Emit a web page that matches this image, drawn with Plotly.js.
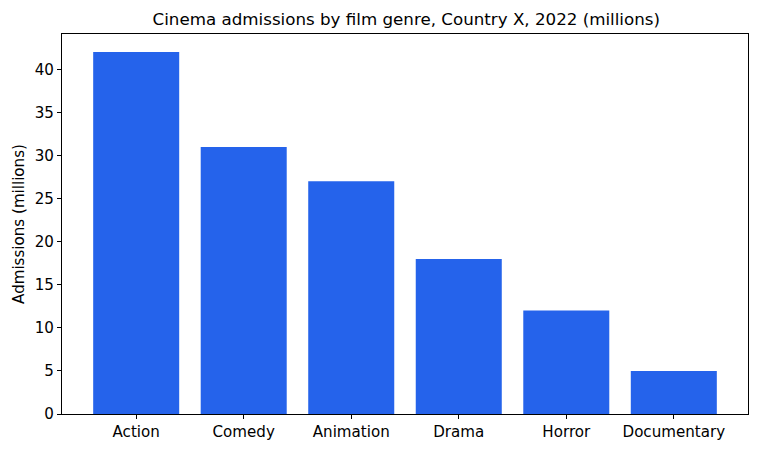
<!DOCTYPE html>
<html>
<head>
<meta charset="utf-8">
<script src="https://cdn.plot.ly/plotly-3.0.1.min.js"></script>
<style>html,body{margin:0;padding:0;background:#fff;}#chart{width:758px;height:451px;}</style>
</head>
<body>
<div id="chart"></div>
<script>
const genres = ["Action", "Comedy", "Animation", "Drama", "Horror", "Documentary"];
const admissions = [42, 31, 27, 18, 12, 5];
const yTicks = [0, 5, 10, 15, 20, 25, 30, 35, 40];

const font = {family: "DejaVu Sans", size: 15.1, color: "#000"};
Plotly.newPlot("chart", [{
  type: "bar",
  x: genres,
  y: admissions,
  marker: {color: "#2563eb", line: {width: 0}},
  hoverinfo: "x+y"
}], {
  width: 758, height: 451,
  margin: {l: 62, r: 10, t: 34, b: 37, pad: 0},
  paper_bgcolor: "#fff", plot_bgcolor: "#fff",
  font: font,
  bargap: 0.2,
  title: {text: "Cinema admissions by film genre, Country X, 2022 (millions)", font: {family: "DejaVu Sans", size: 16.7, color: "#000"}, x: 0.536, xanchor: "center", y: 0.957, yanchor: "middle"},
  xaxis: {
    type: "category", range: [-0.69, 5.69],
    showline: true, linecolor: "#000", linewidth: 1, mirror: true,
    ticks: "outside", ticklen: 4, tickcolor: "#000", tickwidth: 1,
    showgrid: false, zeroline: false, tickfont: font
  },
  yaxis: {
    range: [0, 44.1], tickvals: yTicks, ticktext: yTicks.map(String),
    showline: true, linecolor: "#000", linewidth: 1, mirror: true,
    ticks: "outside", ticklen: 4, tickcolor: "#000", tickwidth: 1,
    showgrid: false, zeroline: false, tickfont: font,
    title: {text: "Admissions (millions)", font: font, standoff: 6}
  },
  showlegend: false
}, {displayModeBar: false, staticPlot: true});
</script>
</body>
</html>
